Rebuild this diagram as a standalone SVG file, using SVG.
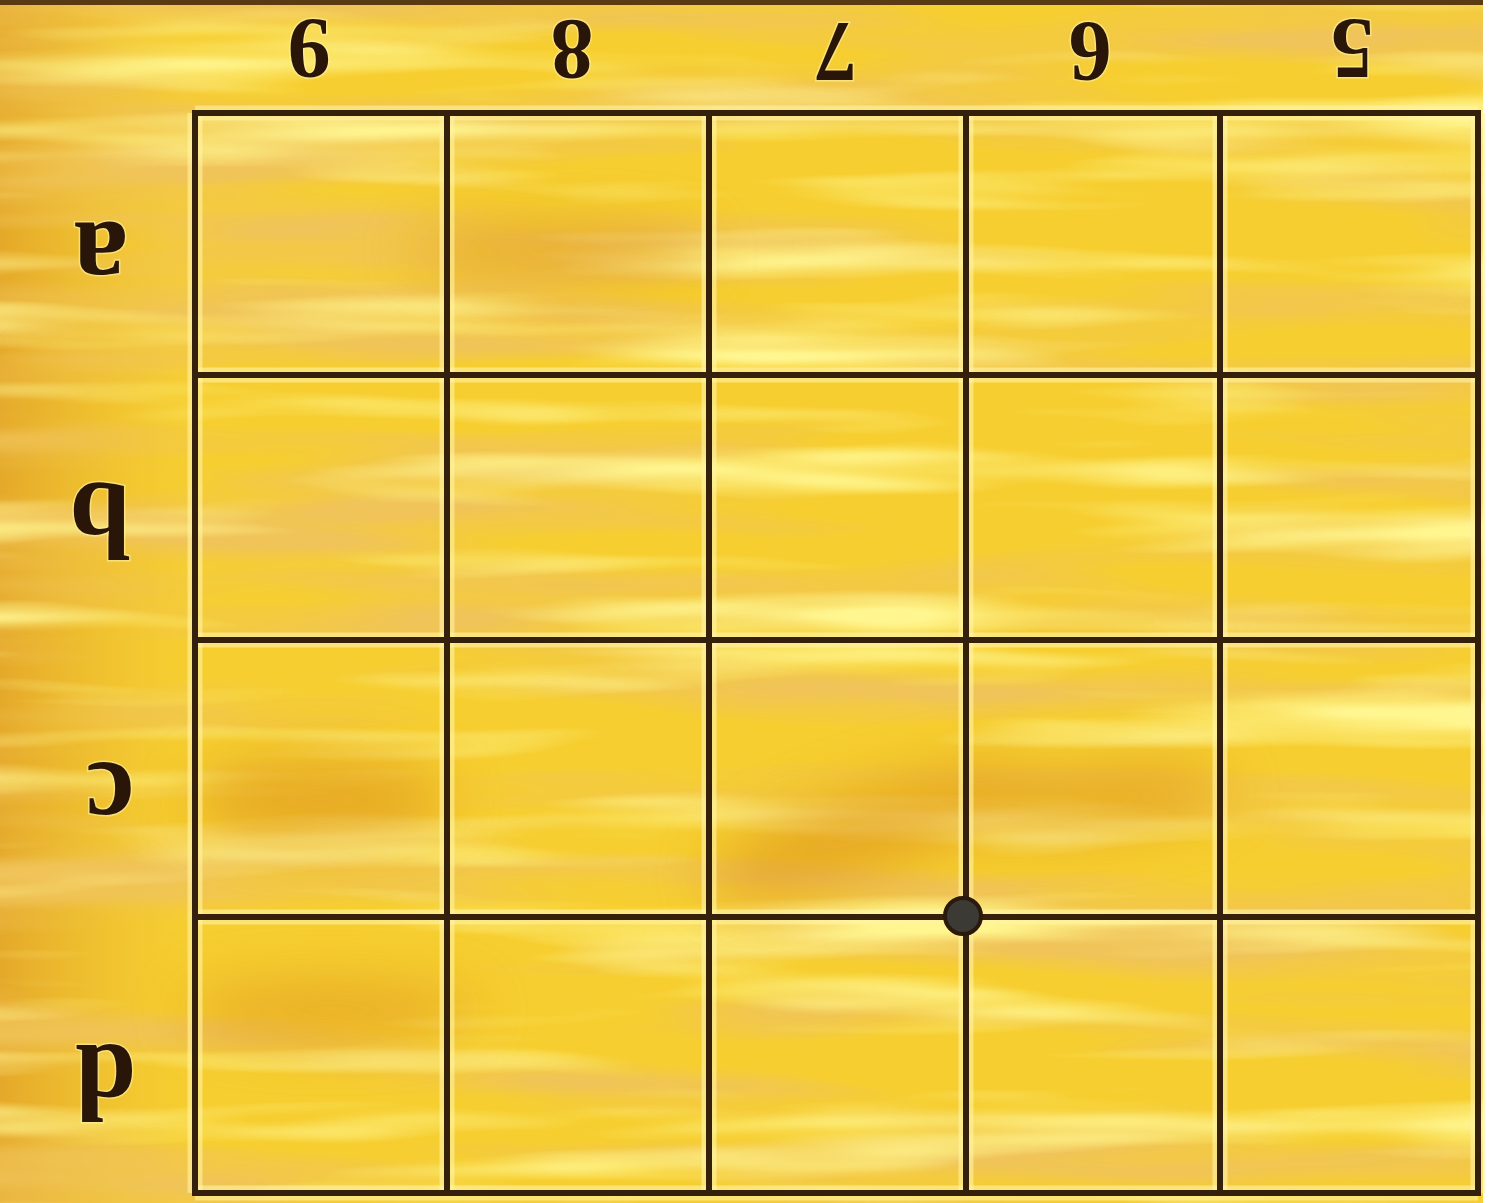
<svg xmlns="http://www.w3.org/2000/svg" width="1493" height="1203" viewBox="0 0 1493 1203">
<style>
.grid line{stroke:#35200c;stroke-width:6;stroke-linecap:square}
.halo line{stroke:#fff3a6;stroke-width:15;opacity:0.6}
.lbl{font-family:"Liberation Serif","DejaVu Serif",serif;font-weight:bold;fill:#2a1608;text-anchor:middle;stroke:#fff3a0;stroke-width:3;paint-order:stroke;stroke-opacity:0.6}
.dig{font-size:86px}
.let{font-size:110px}
</style>
<defs>
<filter id="grain" x="0" y="0" width="100%" height="100%">
<feTurbulence type="fractalNoise" baseFrequency="0.0014 0.014" numOctaves="3" seed="7"/>
<feColorMatrix values="0 0 0 0 0.87  0 0 0 0 0.55  0 0 0 0 0.10  3.5 0 0 0 -1.55"/>
</filter>
<filter id="grain2" x="0" y="0" width="100%" height="100%">
<feTurbulence type="fractalNoise" baseFrequency="0.0018 0.02" numOctaves="3" seed="23"/>
<feColorMatrix values="0 0 0 0 1  0 0 0 0 0.92  0 0 0 0 0.28  3 0 0 0 -1.5"/>
</filter>
<filter id="soft" x="-50%" y="-50%" width="200%" height="200%">
<feGaussianBlur stdDeviation="28"/>
</filter>
<linearGradient id="side" x1="0" y1="0" x2="1" y2="0">
<stop offset="0" stop-color="#e09f28"/>
<stop offset="1" stop-color="#eab834" stop-opacity="0"/>
</linearGradient>
</defs>
<g id="board">
<rect x="0" y="0" width="1483" height="1203" fill="#f6ce30"/>
<rect x="0" y="0" width="190" height="1203" fill="url(#side)" opacity="0.8"/>
<rect x="0" y="0" width="1483" height="1203" filter="url(#grain)"/>
<rect x="0" y="0" width="1483" height="1203" filter="url(#grain2)"/>
<g filter="url(#soft)" fill="#dc8f1e" opacity="0.6">
<ellipse cx="870" cy="830" rx="170" ry="40" transform="rotate(-18 870 830)"/>
<ellipse cx="1100" cy="800" rx="130" ry="30" transform="rotate(-6 1100 800)"/>
<ellipse cx="320" cy="800" rx="130" ry="40"/>
<ellipse cx="330" cy="1010" rx="150" ry="25"/>
<ellipse cx="560" cy="250" rx="150" ry="22"/>
</g>
<rect x="0" y="0" width="1483" height="5" fill="#5a3a12"/>
<rect x="1483" y="0" width="10" height="1203" fill="#ffffff"/>
</g>
<g id="grid-halo" class="halo">
<line x1="195" y1="113" x2="1478" y2="113"/>
<line x1="195" y1="375" x2="1478" y2="375"/>
<line x1="195" y1="640" x2="1478" y2="640"/>
<line x1="195" y1="917" x2="1478" y2="917"/>
<line x1="195" y1="1193" x2="1478" y2="1193"/>
<line x1="195" y1="113" x2="195" y2="1193"/>
<line x1="447" y1="113" x2="447" y2="1193"/>
<line x1="709" y1="113" x2="709" y2="1193"/>
<line x1="966" y1="113" x2="966" y2="1193"/>
<line x1="1220" y1="113" x2="1220" y2="1193"/>
<line x1="1478" y1="113" x2="1478" y2="1193"/>
</g>
<g id="grid" class="grid">
<line x1="195" y1="113" x2="1478" y2="113"/>
<line x1="195" y1="375" x2="1478" y2="375"/>
<line x1="195" y1="640" x2="1478" y2="640"/>
<line x1="195" y1="917" x2="1478" y2="917"/>
<line x1="195" y1="1193" x2="1478" y2="1193"/>
<line x1="195" y1="113" x2="195" y2="1193"/>
<line x1="447" y1="113" x2="447" y2="1193"/>
<line x1="709" y1="113" x2="709" y2="1193"/>
<line x1="966" y1="113" x2="966" y2="1193"/>
<line x1="1220" y1="113" x2="1220" y2="1193"/>
<line x1="1478" y1="113" x2="1478" y2="1193"/>
</g>
<g id="star-point">
<circle cx="963" cy="916" r="18" fill="#3c3a34" stroke="#2b1a0c" stroke-width="4"/>
</g>
<g id="column-labels">
<text class="lbl dig" transform="translate(309,20) rotate(180)">9</text>
<text class="lbl dig" transform="translate(572,21) rotate(180)">8</text>
<text class="lbl dig" transform="translate(836,23) rotate(180)">7</text>
<text class="lbl dig" transform="translate(1090,23) rotate(180)">6</text>
<text class="lbl dig" transform="translate(1352,20) rotate(180)">5</text>
</g>
<g id="row-labels">
<text class="lbl let" transform="translate(101,223) rotate(180)">a</text>
<text class="lbl let" transform="translate(100,483) rotate(180)">b</text>
<text class="lbl let" transform="translate(110,763) rotate(180)">c</text>
<text class="lbl let" transform="translate(106,1045) rotate(180)">d</text>
</g>
</svg>
